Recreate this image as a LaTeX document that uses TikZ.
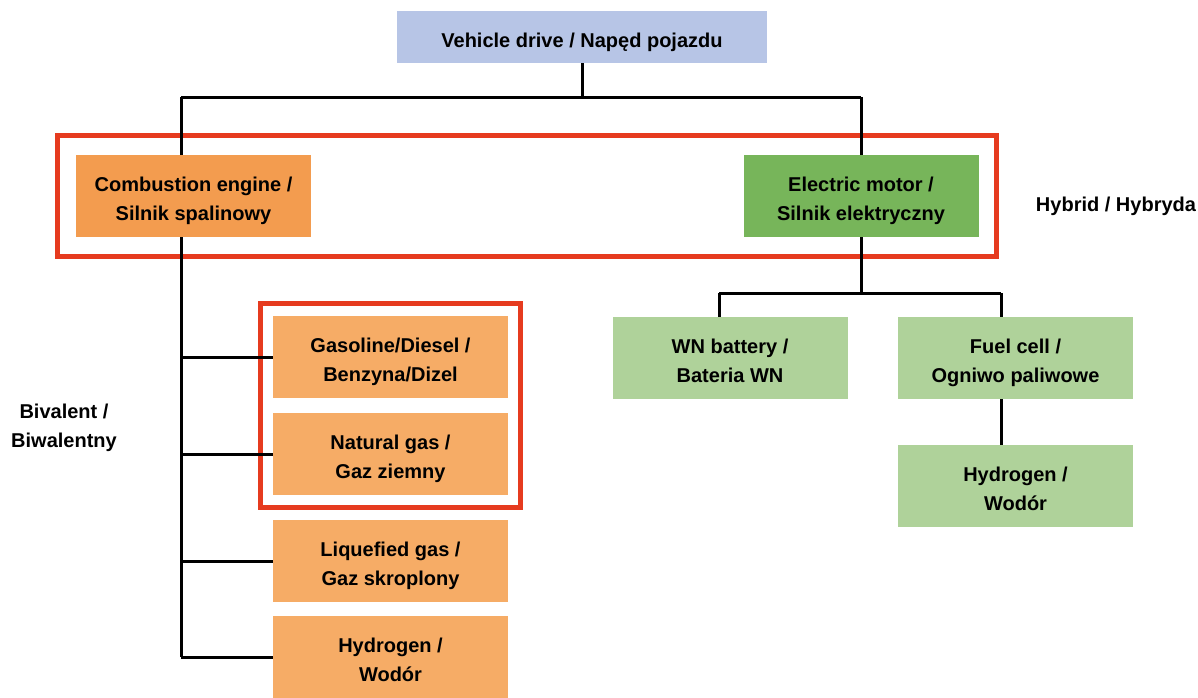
\documentclass[tikz,border=0pt]{standalone}
\usepackage{fontspec}
\setmainfont{Liberation Sans}
\usepackage{xcolor}
\usepackage{tikz}
\usetikzlibrary{fit,backgrounds}
\definecolor{DriveBlue}{HTML}{B7C5E6}
\definecolor{CombOrange}{HTML}{F39C4F}
\definecolor{FuelOrange}{HTML}{F6AC66}
\definecolor{MotorGreen}{HTML}{77B55A}
\definecolor{SourceGreen}{HTML}{AFD29A}
\definecolor{FrameRed}{HTML}{E63B1F}

\begin{document}
\begin{tikzpicture}[
  x=1pt, y=-1pt,
  font=\fontsize{20}{29}\selectfont\bfseries,
  box/.style={align=center, inner sep=0pt, minimum width=235pt, minimum height=82pt,
    execute at begin node={\rule[-6pt]{0pt}{#1}}},
  box/.default=61pt,
  link/.style={line width=3pt},
  frame/.style={draw=FrameRed, line width=4.8pt, inner sep=0pt}
]
\useasboundingbox (0,0) rectangle (1198,697);

\node[box=32pt, fill=DriveBlue, minimum width=370pt, minimum height=52pt] (drive) at (582,37) {Vehicle drive / Napęd pojazdu};

\node[box, fill=CombOrange] (comb) at (193.5,196) {Combustion engine /\\Silnik spalinowy};
\node[box, fill=MotorGreen] (motor) at (861,196) {Electric motor /\\Silnik elektryczny};

\node[box, fill=FuelOrange] (petrol) at (390.5,357) {Gasoline/Diesel /\\Benzyna/Dizel};
\node[box, fill=FuelOrange] (natgas) at (390.5,454) {Natural gas /\\Gaz ziemny};
\node[box, fill=FuelOrange] (lpg) at (390.5,561) {Liquefied gas /\\Gaz skroplony};
\node[box, fill=FuelOrange] (hydroc) at (390.5,657) {Hydrogen /\\Wodór};

\node[box, fill=SourceGreen] (battery) at (730,358) {WN battery /\\Bateria WN};
\node[box, fill=SourceGreen] (fuelcell) at (1015.5,358) {Fuel cell /\\Ogniwo paliwowe};
\node[box, fill=SourceGreen] (hydroe) at (1015.5,486) {Hydrogen /\\Wodór};

\node[align=center] (hybrid) at (1116,206) {Hybrid / Hybryda};
\node[align=center] (bival) at (64,428) {Bivalent /\\Biwalentny};

\coordinate (busL) at (181,97);
\coordinate (busR) at (861,97);
\coordinate (spineEnd) at (181,657);
\coordinate (splitL) at (719,293);
\coordinate (splitR) at (1001,293);

\begin{scope}[on background layer]
  \node[frame, inner xsep=18pt, inner ysep=19pt, fit=(comb)(motor)] (hybframe) {};
  \node[frame, inner sep=12pt, fit=(petrol)(natgas)] (bivframe) {};

  \draw[link] (drive.south) -- (drive.south |- busL);
  \draw[link] (busL) -- (busR);
  \draw[link] (busL) -- (spineEnd);
  \draw[link] (busR) -- (motor.north);
  \draw[link] (busL |- petrol) -- (petrol.west);
  \draw[link] (busL |- natgas) -- (natgas.west);
  \draw[link] (busL |- lpg) -- (lpg.west);
  \draw[link] (spineEnd) -- (hydroc.west);
  \draw[link] (motor.south) -- (motor.south |- splitL);
  \draw[link] (splitL) -- (splitR);
  \draw[link] (splitL) -- (splitL |- battery.north);
  \draw[link] (splitR) -- (splitR |- fuelcell.north);
  \draw[link] (splitR |- fuelcell.south) -- (splitR |- hydroe.north);
\end{scope}
\end{tikzpicture}
\end{document}
